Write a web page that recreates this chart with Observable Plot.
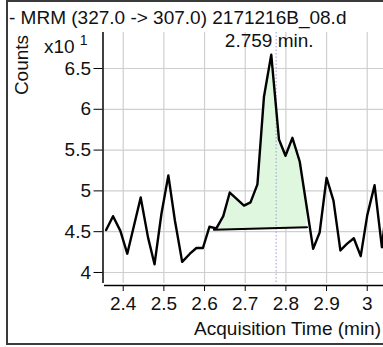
<!DOCTYPE html>
<html>
<head>
<meta charset="utf-8">
<script src="https://cdn.jsdelivr.net/npm/d3@7"></script>
<script src="https://cdn.jsdelivr.net/npm/@observablehq/plot@0.6"></script>
<style>
  html, body { margin: 0; padding: 0; background: #fff; overflow: hidden; width: 383px; height: 347px; }
  #wrap { position: relative; width: 383px; height: 347px; font-family: "Liberation Sans", Arial, sans-serif; color: #111; }
  #frame { position: absolute; left: 6px; top: 0; width: 420px; height: 345px; border: 2px solid #3a3a3a; box-sizing: border-box; }
  .t { position: absolute; font-size: 19px; line-height: 19px; white-space: nowrap; }
  #title { left: 9px; top: 8px; }
  #counts { left: 12px; top: 65px; transform-origin: 0 0; transform: rotate(-90deg) translate(-50%, 0); }
  #mult { left: 44px; top: 37px; }
  #mult sup { font-size: 14px; vertical-align: 0; position: relative; top: -8px; margin-left: 5px; }
  #xlabel { right: 2px; top: 319px; }
  #chart { position: absolute; left: 0; top: 0; }
</style>
</head>
<body>
<div id="wrap">
  <div id="frame"></div>
  <div class="t" id="title">- MRM (327.0 -&gt; 307.0) 2171216B_08.d</div>
  <div class="t" id="counts">Counts</div>
  <div class="t" id="mult">x10<sup>1</sup></div>
  <div class="t" id="xlabel">Acquisition Time (min)</div>
  <div id="chart"></div>
</div>
<script>
// Chromatogram trace: acquisition time (min) and counts (x10^1)
const times = [2.358, 2.375, 2.393, 2.410, 2.443, 2.461, 2.477, 2.494, 2.511, 2.527,
               2.545, 2.564, 2.580, 2.596, 2.612, 2.629, 2.646, 2.662, 2.697, 2.713,
               2.730, 2.746, 2.764, 2.783, 2.799, 2.816, 2.834, 2.867, 2.883, 2.900,
               2.917, 2.934, 2.950, 2.967, 2.984, 3.000, 3.018, 3.036, 3.052];
const counts = [4.52, 4.69, 4.51, 4.23, 4.92, 4.43, 4.10, 4.72, 5.19, 4.64,
                4.13, 4.23, 4.30, 4.30, 4.56, 4.54, 4.69, 4.98, 4.82, 4.86,
                5.08, 6.15, 6.67, 5.63, 5.43, 5.65, 5.36, 4.29, 4.49, 5.16,
                4.88, 4.27, 4.35, 4.42, 4.20, 4.70, 5.07, 4.31, 5.00];

// Integration baseline (start and end of the integrated peak)
const baseTimes = [2.623, 2.852];
const baseCounts = [4.523, 4.555];

// Peak annotation and retention-time marker
const peakLabel = "2.759 min.";
const peakLabelTime = 2.759;
const markerTime = 2.776;

// Axes
const xTicks = [2.4, 2.5, 2.6, 2.7, 2.8, 2.9, 3.0];
const yTicks = [4, 4.5, 5, 5.5, 6, 6.5];
const xDomain = [2.354, 3.040];
const yDomain = [3.865, 6.941];

const trace = times.map((t, i) => ({t, v: counts[i]}));
const baseline = baseTimes.map((t, i) => ({t, v: baseCounts[i]}));

// Signal value at time t (linear between samples)
const at = t => {
  const i = d3.bisectRight(times, t);
  const a = trace[i - 1], b = trace[i];
  return a.v + (b.v - a.v) * (t - a.t) / (b.t - a.t);
};
const baseAt = t => baseCounts[0] + (baseCounts[1] - baseCounts[0]) * (t - baseTimes[0]) / (baseTimes[1] - baseTimes[0]);

// Shaded peak area between the baseline and the trace
const areaData = [baseTimes[0], ...times.filter(t => t > baseTimes[0] && t < baseTimes[1]), baseTimes[1]]
  .map(t => ({t, v: Math.max(at(t), baseAt(t)), b: baseAt(t)}));

const chart = Plot.plot({
  width: 383,
  height: 347,
  marginLeft: 104,
  marginRight: 0,
  marginTop: 32,
  marginBottom: 64,
  style: {fontFamily: "'Liberation Sans', Arial, sans-serif", fontSize: "19px", color: "#111", background: "transparent"},
  x: {domain: xDomain},
  y: {domain: yDomain},
  marks: [
    Plot.gridX(xTicks, {stroke: "#cfcfcf", strokeOpacity: 1, strokeWidth: 1.2}),
    Plot.gridY(yTicks, {stroke: "#cfcfcf", strokeOpacity: 1, strokeWidth: 1.2}),
    Plot.areaY(areaData, {x: "t", y1: "b", y2: "v", fill: "#dff7df", fillOpacity: 1}),
    Plot.ruleX([markerTime], {stroke: "#9c9cd6", strokeWidth: 1, strokeDasharray: "1.5,2"}),
    Plot.line(trace, {x: "t", y: "v", stroke: "#000", strokeWidth: 2.4, clip: true}),
    Plot.line(baseline, {x: "t", y: "v", stroke: "#000", strokeWidth: 2}),
    Plot.text([peakLabel], {x: [peakLabelTime], frameAnchor: "top", lineAnchor: "top", dy: 1, fill: "#111"}),
    Plot.ruleX([xDomain[0]], {dx: -1.5, stroke: "#000", strokeWidth: 1.5}),
    Plot.ruleY([yDomain[0]], {dy: 2, stroke: "#000", strokeWidth: 1.5}),
    Plot.axisX(xTicks, {tickSize: 6, tickPadding: 5, dy: 2, label: null, tickFormat: d => String(d), stroke: "#000"}),
    Plot.axisY(yTicks, {tickSize: 9, tickPadding: 3, dx: -1.5, label: null, tickFormat: d => String(d), stroke: "#000"})
  ]
});
document.getElementById("chart").append(chart);
</script>
</body>
</html>
